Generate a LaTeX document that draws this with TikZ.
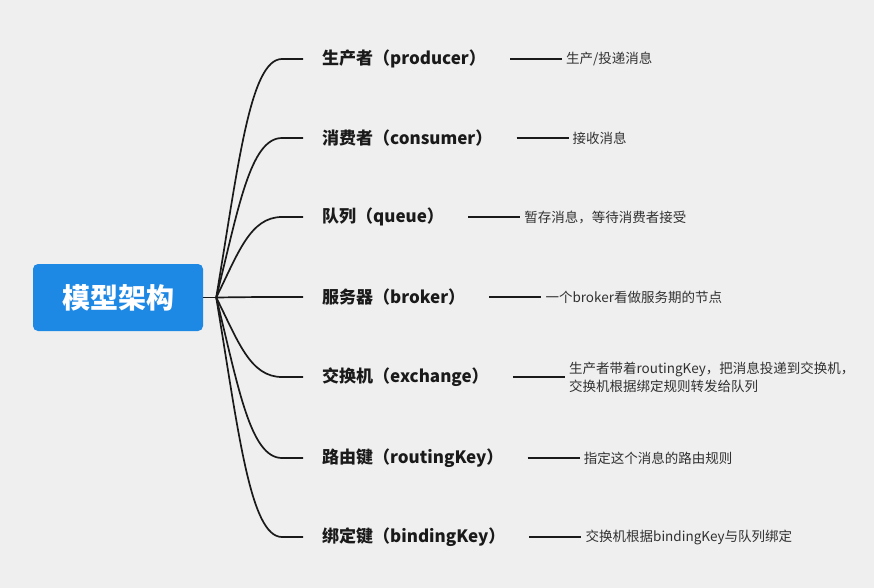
\documentclass[tikz,border=0pt]{standalone}
\usepackage{fontspec}
\setmainfont{Noto Sans CJK SC}
\usetikzlibrary{positioning}
\usetikzlibrary{calc}

\definecolor{rootblue}{HTML}{1E88E5}
\definecolor{paper}{HTML}{EFEFEF}
\definecolor{ink}{HTML}{1A1A1A}

\tikzset{
  rootbox/.style={rectangle,rounded corners=5pt,fill=rootblue,text=white,
    font=\bfseries\fontsize{28}{32}\selectfont,minimum width=170pt,minimum height=67pt},
  topic/.style={anchor=west,inner xsep=19pt,inner ysep=2pt,text=ink,
    font=\bfseries\fontsize{17}{20}\selectfont},
  note/.style={inner sep=4pt,text=ink!90,align=left,
    font=\fontsize{13.5}{18}\selectfont},
  branch/.style={draw=ink,line width=1.7pt},
}

\begin{document}
\begin{tikzpicture}[x=1pt,y=-1pt]
\fill[paper] (0,0) rectangle (874,588);
\useasboundingbox (0,0) rectangle (874,588);

% root
\node[rootbox] (root) at (118,297.5) {模型架构};
\coordinate (J) at ([xshift=13pt]root.east);

% topics
\node[topic] (prod) at (303,59) {生产者（producer）};
\node[topic] (cons) at (303,138) {消费者（consumer）};
\node[topic] (queue) at (303,217) {队列（queue）};
\node[topic] (broker) at (303,297) {服务器（broker）};
\node[topic] (exch) at (303,377) {交换机（exchange）};
\node[topic] (rkey) at (303,458) {路由键（routingKey）};
\node[topic] (bkey) at (303,537) {绑定键（bindingKey）};

% notes
\node[note,right=57pt of prod] (prodtxt) {生产/投递消息};
\node[note,right=57pt of cons] (constxt) {接收消息};
\node[note,right=57pt of queue] (queuetxt) {暂存消息，等待消费者接受};
\node[note,right=57pt of broker] (brokertxt) {一个broker看做服务期的节点};
\node[note,right=57pt of exch] (exchtxt) {生产者带着routingKey，把消息投递到交换机，\\交换机根据绑定规则转发给队列};
\node[note,right=57pt of rkey] (rkeytxt) {指定这个消息的路由规则};
\node[note,right=57pt of bkey] (bkeytxt) {交换机根据bindingKey与队列绑定};

% connectors
\draw[branch] (root) -- (J);
\foreach \t in {prod,cons,queue,broker,exch,rkey,bkey}
  \draw[branch] (J) .. controls ($(J)!0.55!(J|-\t.west)+(22,0)$) and ($(\t.west)+(-53,0)$) .. ($(\t.west)+(-21,0)$) -- (\t.west);
\foreach \t in {prod,cons,queue,broker,exch,rkey,bkey}
  \draw[branch] ([xshift=5pt]\t.east) -- (\t txt.west);

\end{tikzpicture}
\end{document}
